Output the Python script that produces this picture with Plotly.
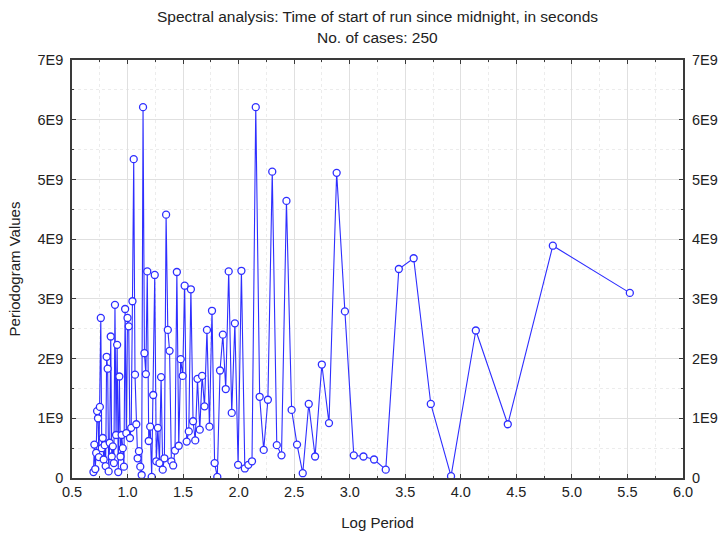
import numpy as np
import plotly.graph_objects as go

# Series length and harmonic index k = 1..125 (Fourier frequencies k/N)
n_cases = 250
harmonics = list(range(1, 126))

# Periodogram values in units of 1E9, listed for k = 1, 2, ..., 125
periodogram_e9 = [
    3.10, 3.89, 0.90, 2.47, 0.03, 1.24, 3.68, 3.50, 0.14, 0.31,
    0.36, 0.38, 2.79, 5.11, 0.92, 1.90, 0.36, 1.24, 0.08, 0.56,
    1.14, 4.64, 0.38, 0.55, 5.13, 1.31, 0.47, 1.36, 6.21, 0.28,
    0.22, 0.16, 3.47, 0.22, 2.59, 1.09, 3.46, 1.49, 2.40, 1.80,
    0.02, 0.25, 2.80, 0.86, 2.48, 1.20, 1.71, 0.81, 1.66, 0.63,
    0.95, 3.16, 0.78, 0.61, 3.22, 1.71, 1.99, 0.54, 3.45, 0.46,
    0.21, 0.28, 2.13, 2.48, 4.41, 0.33, 0.14, 1.69, 0.25, 0.84,
    0.28, 3.40, 1.39, 0.02, 0.86, 0.62, 3.46, 1.74, 2.09, 6.21,
    0.05, 0.19, 0.45, 0.33, 0.90, 1.73, 5.34, 2.96, 0.84, 0.67,
    2.54, 2.68, 0.75, 2.83, 0.19, 0.50, 0.72, 0.36, 1.70, 0.10,
    2.23, 0.72, 2.90, 0.25, 0.53, 0.36, 2.37, 0.59, 0.11, 1.83,
    2.03, 0.20, 0.55, 0.31, 0.67, 0.50, 2.68, 1.19, 0.35, 1.00,
    1.12, 0.42, 0.15, 0.56, 0.10,
]

x_ticks = [0.5, 1.0, 1.5, 2.0, 2.5, 3.0, 3.5, 4.0, 4.5, 5.0, 5.5, 6.0]
y_tick_labels = ["0", "1E9", "2E9", "3E9", "4E9", "5E9", "6E9", "7E9"]

title_lines = ["Spectral analysis: Time of start of run since midnight, in seconds",
               f"No. of cases: {n_cases}"]

# Log period = ln(N / k)
log_period = [float(np.log(n_cases / k)) for k in harmonics]
values = [v * 1e9 for v in periodogram_e9]

# order by log period so the line runs left to right
order = np.argsort(log_period)
xs = [log_period[i] for i in order]
ys = [values[i] for i in order]

y_tick_vals = [i * 1e9 for i in range(len(y_tick_labels))]

line_blue = "#2e2eff"
family = "Liberation Sans, Arial, sans-serif"
text_col = "#222222"
axis_col = "#3a3a3a"
grid = "#e0e0e0"
minor_grid = "#ececec"
tick_size = 14.5
title_size = 15.5
axis_title_size = 15

fig = go.Figure()
fig.add_trace(go.Scatter(
    x=xs, y=ys, mode="lines+markers",
    line=dict(color=line_blue, width=1.1),
    marker=dict(symbol="circle", size=7, color="white",
                line=dict(width=1.3, color=line_blue)),
    showlegend=False, hoverinfo="x+y",
))
# companion trace so the right-hand value axis is drawn
fig.add_trace(go.Scatter(x=[xs[0]], y=[ys[0]], yaxis="y2", mode="markers",
                         marker=dict(opacity=0), showlegend=False, hoverinfo="skip"))

# two-line heading above the plot frame
for line, ypos in zip(title_lines, [1.103, 1.053]):
    fig.add_annotation(text=line, xref="paper", yref="paper", x=0.5, y=ypos,
                       xanchor="center", yanchor="middle", showarrow=False,
                       font=dict(family=family, size=title_size, color=text_col))

fig.update_layout(
    width=721, height=534,
    margin=dict(l=72, r=38, t=60, b=56, autoexpand=False),
    paper_bgcolor="white", plot_bgcolor="white",
    font=dict(family=family, size=tick_size, color=text_col),
    xaxis=dict(
        range=[0.5, 6.0], tickvals=x_ticks, tickformat=".1f", automargin=False,
        showgrid=True, gridcolor=grid, gridwidth=1,
        minor=dict(dtick=0.25, showgrid=True, gridcolor=minor_grid, griddash="dot",
                   ticks="inside", ticklen=2, tickcolor=axis_col),
        ticks="inside", ticklen=4, tickcolor=axis_col,
        showline=True, linecolor=axis_col, linewidth=1.5, mirror="ticks",
        zeroline=False,
        title=dict(text="Log Period", standoff=18, font=dict(size=axis_title_size)),
    ),
    yaxis=dict(
        range=[0, 7e9], tickvals=y_tick_vals, ticktext=y_tick_labels, automargin=False,
        showgrid=True, gridcolor=grid, gridwidth=1,
        minor=dict(dtick=0.5e9, showgrid=True, gridcolor=minor_grid, griddash="dot",
                   ticks="inside", ticklen=2, tickcolor=axis_col),
        ticks="inside", ticklen=4, tickcolor=axis_col,
        showline=True, linecolor=axis_col, linewidth=1.5, mirror="ticks",
        zeroline=False, ticklabelstandoff=4,
        title=dict(text="Periodogram Values", standoff=13, font=dict(size=axis_title_size)),
    ),
    yaxis2=dict(
        range=[0, 7e9], tickvals=y_tick_vals, ticktext=y_tick_labels, automargin=False,
        overlaying="y", side="right", showgrid=False,
        ticks="", showline=False, zeroline=False, ticklabelstandoff=8,
    ),
)

fig.write_html("out.html")
